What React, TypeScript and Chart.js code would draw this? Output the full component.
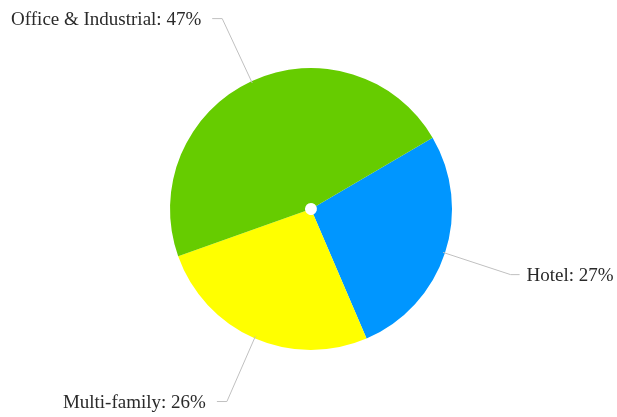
import React, { useEffect, useRef } from "react";
import { Chart, registerables } from "chart.js";

Chart.register(...registerables);

const categories = ["Hotel", "Multi-family", "Office & Industrial"];
const shares = [27, 26, 47];
const sliceColors = ["#0096ff", "#ffff00", "#66cc00"];

const leaderLabels = {
  id: "leaderLabels",
  afterDatasetsDraw(chart: any) {
    const ctx = chart.ctx;
    const meta = chart.getDatasetMeta(0);
    ctx.save();
    ctx.font = "19px 'Liberation Serif', 'Times New Roman', serif";
    ctx.textBaseline = "middle";
    meta.data.forEach((arc: any, i: number) => {
      const { x, y, startAngle, endAngle, outerRadius } = arc.getProps(
        ["x", "y", "startAngle", "endAngle", "outerRadius"],
        true
      );
      const a = (startAngle + endAngle) / 2;
      const cx = Math.cos(a);
      const cy = Math.sin(a);
      const p0x = x + cx * (outerRadius - 2);
      const p0y = y + cy * (outerRadius - 2);
      const er = outerRadius * 1.49;
      const ex = x + cx * er;
      const ey = y + cy * er;
      const right = cx >= 0;
      const hx = ex + (right ? 9 : -10);
      ctx.strokeStyle = "#c0c0c0";
      ctx.lineWidth = 1;
      ctx.beginPath();
      ctx.moveTo(p0x, p0y);
      ctx.lineTo(ex, ey);
      ctx.lineTo(hx, ey);
      ctx.stroke();
      ctx.fillStyle = "#2a2a2a";
      ctx.textAlign = right ? "left" : "right";
      const label = `${categories[i]}: ${shares[i]}%`;
      ctx.fillText(label, hx + (right ? 7 : -11), ey + 1);
    });
    ctx.restore();
  },
};

export default function App() {
  const ref = useRef<HTMLCanvasElement>(null);
  useEffect(() => {
    document.body.style.margin = "0";
    const chart = new Chart(ref.current!, {
      type: "doughnut",
      data: {
        labels: categories,
        datasets: [
          {
            data: shares,
            backgroundColor: sliceColors,
            borderWidth: 0,
          },
        ],
      },
      options: {
        responsive: false,
        animation: false,
        cutout: 6,
        rotation: 59.6,
        layout: { padding: { left: 170, right: 165, top: 68, bottom: 67 } },
        plugins: {
          legend: { display: false },
          tooltip: { enabled: false },
        },
      },
      plugins: [leaderLabels],
    });
    return () => chart.destroy();
  }, []);
  return (
    <div style={{ position: "fixed", left: 0, top: 0, width: 617, height: 417, background: "#fff" }}>
      <canvas ref={ref} width={617} height={417} />
    </div>
  );
}
